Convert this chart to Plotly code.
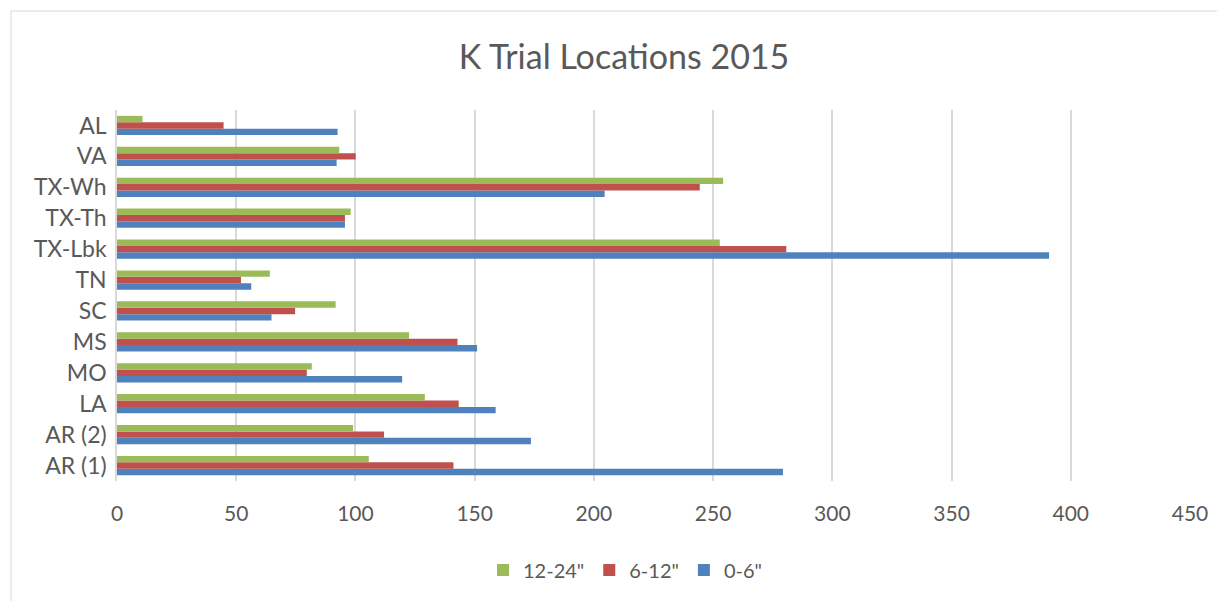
import plotly.graph_objects as go

locations = ["AR (1)", "AR (2)", "LA", "MO", "MS", "SC", "TN", "TX-Lbk", "TX-Th", "TX-Wh", "VA", "AL"]
depth_0_6 = [279.3, 173.6, 158.8, 119.6, 151.0, 64.8, 56.3, 390.9, 95.6, 204.5, 92.1, 92.5]
depth_6_12 = [141.1, 112.0, 143.3, 79.6, 142.8, 74.7, 52.0, 280.7, 95.6, 244.4, 100.1, 44.7]
depth_12_24 = [105.6, 99.0, 129.1, 81.7, 122.5, 91.7, 64.1, 252.8, 98.0, 254.2, 93.2, 10.7]
series_names = ['0-6"', '6-12"', '12-24"']
colors = ["#4f81bd", "#c0504d", "#9bbb59"]
x_ticks = [0, 50, 100, 150, 200, 250, 300, 350, 400, 450]

FONT = "Lato, Carlito, Calibri, sans-serif"
GREY = "#595959"

fig = go.Figure()
for name, vals, col in zip(series_names, [depth_0_6, depth_6_12, depth_12_24], colors):
    fig.add_trace(go.Bar(
        y=locations, x=vals, name=name, orientation="h",
        marker=dict(color=col, line=dict(width=0)),
    ))

# page body has an 8px margin; figure coordinates are offset accordingly
OFF = 8
W, H = 1225, 601
L = 117 - OFF
R = W - (1190 - OFF)
T = 110 - OFF
B = H - (481 - OFF)

fig.update_layout(
    width=W, height=H,
    barmode="group", bargap=0.38, bargroupgap=0,
    paper_bgcolor="white", plot_bgcolor="white",
    margin=dict(l=L, r=R, t=T, b=B),
    font=dict(family=FONT, color=GREY, size=20),
    title=dict(text="K Trial Locations 2015", x=(624 - OFF - L) / (W - L - R),
               xref="paper", xanchor="center",
               y=1 - (57 - OFF) / H, yanchor="middle",
               font=dict(family=FONT, size=34, color=GREY)),
    xaxis=dict(range=[0, 450], tickvals=x_ticks, showgrid=True,
               gridcolor="#d9d9d9", gridwidth=1.5, zeroline=False,
               showline=False, ticks="", ticklabelstandoff=18,
               tickfont=dict(size=21, color=GREY)),
    yaxis=dict(showgrid=False, showline=True, linecolor="#d9d9d9",
               linewidth=1.5, ticks="", ticklabelstandoff=4,
               tickfont=dict(size=23, color=GREY),
               categoryorder="array", categoryarray=locations),
    legend=dict(orientation="h", x=(625 - OFF - L) / (W - L - R), xanchor="center",
                y=-(570 - OFF - (H - B)) / (H - T - B), yanchor="middle",
                traceorder="reversed", font=dict(size=20, color=GREY),
                itemwidth=30),
    showlegend=True,
)

# outer chart border
pw = W - L - R
ph = H - T - B
x0 = (11 - OFF - L) / pw
x1 = (1224 - OFF - L) / pw
y1 = (H - (11 - OFF) - B) / ph
y0 = (-B - 20) / ph
fig.add_shape(type="rect", xref="paper", yref="paper",
              x0=x0, x1=x1, y0=y0, y1=y1,
              line=dict(color="#d9d9d9", width=1), fillcolor="rgba(0,0,0,0)",
              layer="below")

fig.write_html("out.html")
